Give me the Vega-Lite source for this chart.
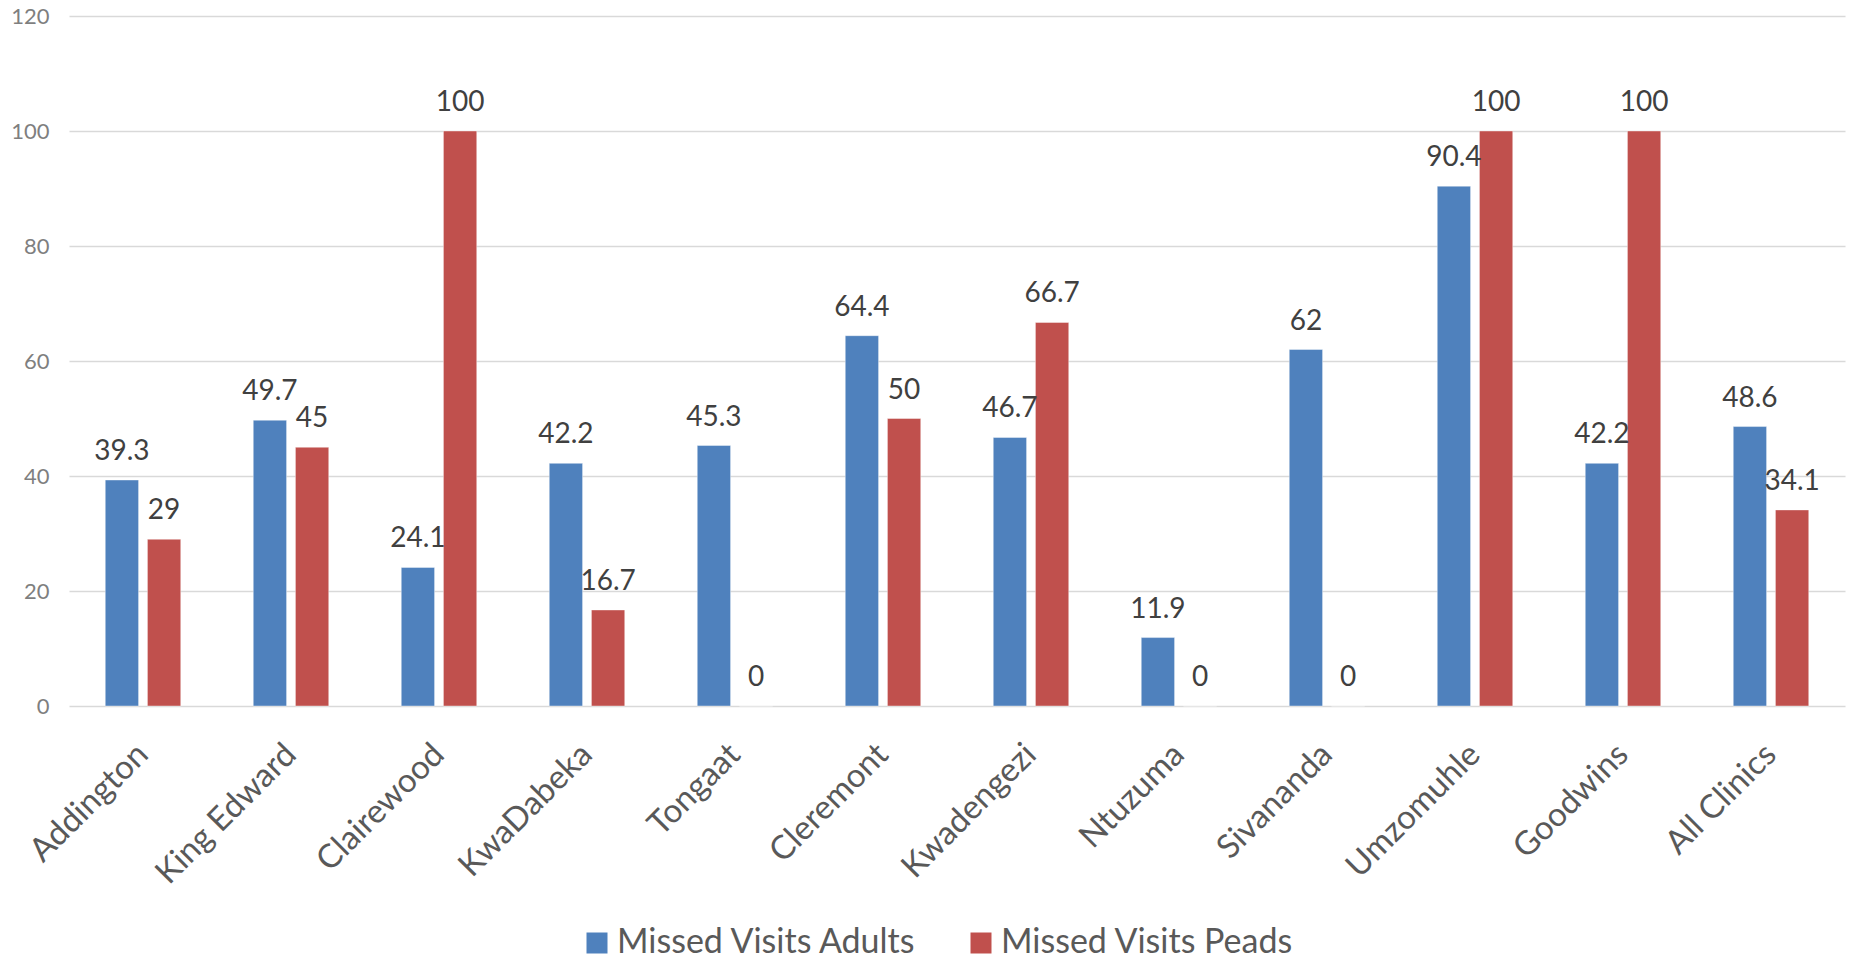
{
  "$schema": "https://vega.github.io/schema/vega-lite/v6.json",
  "width": 1776,
  "height": 690,
  "autosize": {"type": "none"},
  "padding": {"left": 69, "top": 16, "right": 6, "bottom": 254},
  "background": "#ffffff",
  "config": {
    "view": {"stroke": null},
    "font": "Lato"
  },
  "data": {
    "values": [
      {"clinic": "Addington", "series": "Missed Visits Adults", "value": 39.3},
      {"clinic": "Addington", "series": "Missed Visits Peads", "value": 29},
      {"clinic": "King Edward", "series": "Missed Visits Adults", "value": 49.7},
      {"clinic": "King Edward", "series": "Missed Visits Peads", "value": 45},
      {"clinic": "Clairewood", "series": "Missed Visits Adults", "value": 24.1},
      {"clinic": "Clairewood", "series": "Missed Visits Peads", "value": 100},
      {"clinic": "KwaDabeka", "series": "Missed Visits Adults", "value": 42.2},
      {"clinic": "KwaDabeka", "series": "Missed Visits Peads", "value": 16.7},
      {"clinic": "Tongaat", "series": "Missed Visits Adults", "value": 45.3},
      {"clinic": "Tongaat", "series": "Missed Visits Peads", "value": 0},
      {"clinic": "Cleremont", "series": "Missed Visits Adults", "value": 64.4},
      {"clinic": "Cleremont", "series": "Missed Visits Peads", "value": 50},
      {"clinic": "Kwadengezi", "series": "Missed Visits Adults", "value": 46.7},
      {"clinic": "Kwadengezi", "series": "Missed Visits Peads", "value": 66.7},
      {"clinic": "Ntuzuma", "series": "Missed Visits Adults", "value": 11.9},
      {"clinic": "Ntuzuma", "series": "Missed Visits Peads", "value": 0},
      {"clinic": "Sivananda", "series": "Missed Visits Adults", "value": 62},
      {"clinic": "Sivananda", "series": "Missed Visits Peads", "value": 0},
      {"clinic": "Umzomuhle", "series": "Missed Visits Adults", "value": 90.4},
      {"clinic": "Umzomuhle", "series": "Missed Visits Peads", "value": 100},
      {"clinic": "Goodwins", "series": "Missed Visits Adults", "value": 42.2},
      {"clinic": "Goodwins", "series": "Missed Visits Peads", "value": 100},
      {"clinic": "All Clinics", "series": "Missed Visits Adults", "value": 48.6},
      {"clinic": "All Clinics", "series": "Missed Visits Peads", "value": 34.1}
    ]
  },
  "encoding": {
    "x": {
      "field": "clinic",
      "type": "nominal",
      "sort": null,
      "scale": {"paddingInner": 0.49, "paddingOuter": 0.245},
      "axis": {
        "title": null,
        "domain": false,
        "ticks": false,
        "labelAngle": -45,
        "labelAlign": "right",
        "labelBaseline": "middle",
        "labelPadding": 43,
        "labelFont": "Lato",
        "labelFontSize": 33,
        "labelColor": "#595959",
        "labelLimit": 400
      }
    },
    "xOffset": {
      "field": "series",
      "type": "nominal",
      "scale": {"domain": ["Missed Visits Adults", "Missed Visits Peads"], "paddingInner": 0.21, "paddingOuter": 0}
    },
    "y": {
      "field": "value",
      "type": "quantitative",
      "scale": {"domain": [0, 120], "nice": false},
      "axis": {
        "title": null,
        "values": [0, 20, 40, 60, 80, 100, 120],
        "domain": false,
        "ticks": false,
        "grid": true,
        "gridColor": "#d9d9d9",
        "gridWidth": 1.5,
        "labelPadding": 20,
        "labelFont": "Lato",
        "labelFontSize": 22,
        "labelColor": "#7f7f7f"
      }
    }
  },
  "layer": [
    {
      "mark": {"type": "bar", "stroke": "#ffffff", "strokeOpacity": 0.4, "strokeWidth": 1},
      "encoding": {
        "color": {
          "field": "series",
          "type": "nominal",
          "scale": {"domain": ["Missed Visits Adults", "Missed Visits Peads"], "range": ["#4f81bd", "#c0504d"]},
          "legend": {
            "title": null,
            "orient": "none",
            "direction": "horizontal",
            "legendX": 511,
            "legendY": 910,
            "padding": 0,
            "symbolType": "square",
            "symbolSize": 441,
            "symbolStrokeWidth": 0,
            "labelOffset": 3,
            "columnPadding": 47,
            "labelFont": "Lato",
            "labelFontSize": 34,
            "labelColor": "#595959",
            "labelLimit": 500
          }
        }
      }
    },
    {
      "mark": {"type": "text", "baseline": "alphabetic", "dy": -20, "font": "Lato", "fontSize": 28, "color": "#404040"},
      "encoding": {
        "text": {"field": "value", "type": "quantitative"}
      }
    }
  ]
}
